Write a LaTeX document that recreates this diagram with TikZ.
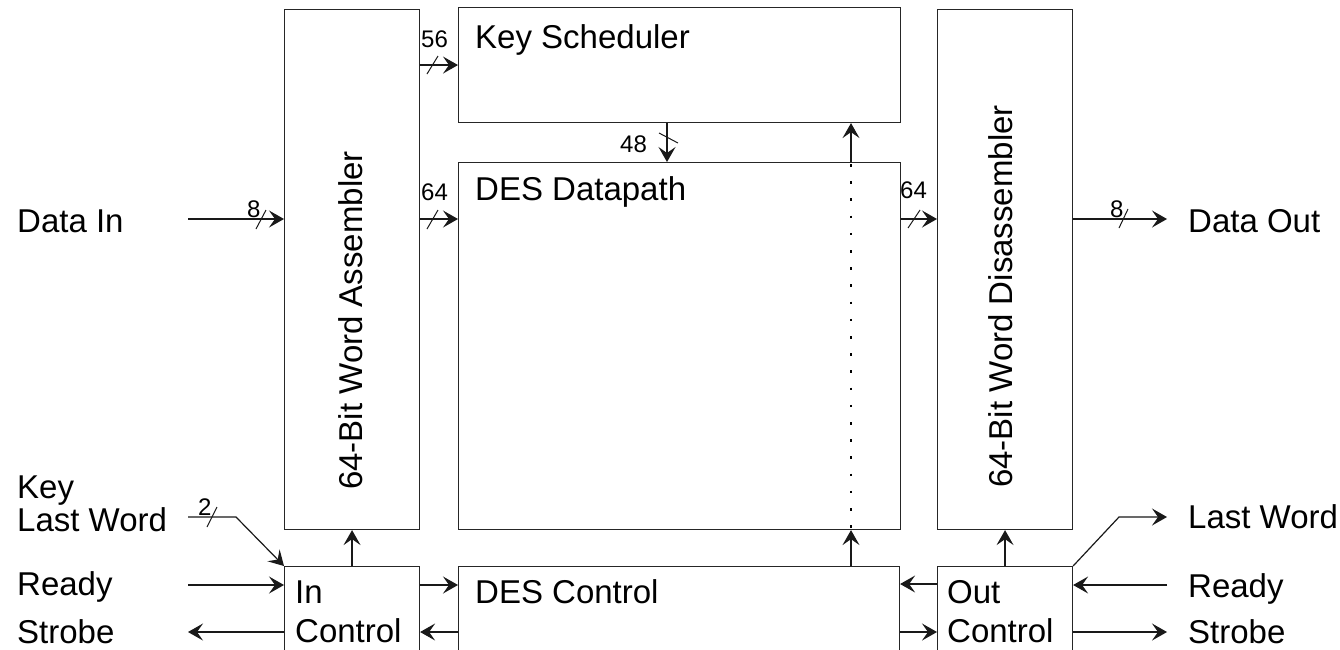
\documentclass[tikz,border=0pt]{standalone}
\usepackage{fontspec}
\setmainfont{Liberation Sans}
\usetikzlibrary{arrows.meta,calc}
\tikzset{
  box/.style={draw=black!85, line width=1.1pt, rectangle, inner sep=0pt, anchor=north west},
  big/.style={inner sep=0pt, anchor=base west, font=\fontsize{33}{40}\selectfont},
  small/.style={inner sep=0pt, anchor=base west, font=\fontsize{24}{28}\selectfont},
  conn/.style={line width=1.2pt, draw=black!90, -{Stealth[length=15pt,width=17pt,inset=6pt]}},
  slash/.style={line width=1pt, draw=black!90},
  dotline/.style={line width=2.6pt, dash pattern=on 2.6pt off 14.6pt}
}
\begin{document}
\begin{tikzpicture}[x=1pt,y=-1pt]
\useasboundingbox (0,0) rectangle (1340,649);
\clip (0,0) rectangle (1340,649);
% boxes
\node[box, minimum width=135pt, minimum height=520pt] (asm) at (284,9) {};
\node[box, minimum width=442pt, minimum height=115pt] (ks) at (458,7) {};
\node[box, minimum width=442pt, minimum height=367pt] (dp) at (458,162) {};
\node[box, minimum width=135pt, minimum height=520pt] (dis) at (937,9) {};
\node[box, minimum width=135pt, minimum height=110pt] (inc) at (284,566) {};
\node[box, minimum width=441pt, minimum height=110pt] (desc) at (458,566) {};
\node[box, minimum width=135pt, minimum height=110pt] (outc) at (937,566) {};
% box texts
\node[big] (tks) at (475,48) {Key Scheduler};
\node[big] (tdp) at (475,200) {DES Datapath};
\node[big] (tdc) at (475,603) {DES Control};
\node[big] (tin1) at (295,603) {In};
\node[big] (tin2) at (295,642) {Control};
\node[big] (tout1) at (947,603) {Out};
\node[big] (tout2) at (947,642) {Control};
\node[big, rotate=90] (tasm) at (362,490) {64-Bit Word Assembler};
\node[big, rotate=90] (tdis) at (1012,488) {64-Bit Word Disassembler};
% outer labels
\node[big] (ldatain) at (17,232) {Data In};
\node[big] (lkey) at (17,498) {Key};
\node[big] (llw) at (17,531) {Last Word};
\node[big] (lrdy) at (17,595) {Ready};
\node[big] (lstb) at (17,643) {Strobe};
\node[big] (rdataout) at (1188,232) {Data Out};
\node[big] (rlw) at (1188,528) {Last Word};
\node[big] (rrdy) at (1188,597) {Ready};
\node[big] (rstb) at (1188,643) {Strobe};
% width labels
\node[small] (n56) at (421,47) {56};
\node[small] (n64a) at (421,200) {64};
\node[small] (n8a) at (247,217) {8};
\node[small] (n48) at (620,152) {48};
\node[small] (n64b) at (900,198) {64};
\node[small] (n8b) at (1110,217) {8};
\node[small] (n2) at (198,515) {2};
% helper coordinates
\coordinate (row) at (0,219);
\coordinate (inA) at (188,219);
\coordinate (outA) at (1167,219);
\coordinate (k48) at (667,0);
\coordinate (kd) at (851,0);
\coordinate (klw) at (188,517);
\coordinate (klwb) at (236,517);
\coordinate (rdyL) at (188,585);
\coordinate (stbL) at (188,632);
\coordinate (rowR) at (0,585);
\coordinate (rowS) at (0,632);
\coordinate (rowR2) at (0,584);
\coordinate (lwb) at (1119,517);
\coordinate (lwE) at (1167,517);
\coordinate (rdyR) at (1167,585);
\coordinate (stbR) at (1167,632);
% connectors
\draw[conn] (inA) -- (asm.west |- inA);
\draw[conn] (asm.east |- ks.west) -- (ks.west);
\draw[conn] (asm.east |- row) -- (dp.west |- row);
\draw[conn] (ks.south -| k48) -- (dp.north -| k48);
\draw[conn] (dp.north -| kd) -- (ks.south -| kd);
\draw[dotline] ($(dp.north -| kd)+(0,2)$) -- (dp.south -| kd);
\draw[conn] (desc.north -| kd) -- (dp.south -| kd);
\draw[conn] (dp.east |- row) -- (dis.west |- row);
\draw[conn] (dis.east |- row) -- (outA);
\draw[conn] (inc.north) -- (asm.south);
\draw[conn] (outc.north) -- (dis.south);
\draw[conn] (klw) -- (klwb) -- (inc.north west);
\draw[conn] (rdyL) -- (inc.west |- rdyL);
\draw[conn] (inc.west |- stbL) -- (stbL);
\draw[conn] (inc.east |- rowR) -- (desc.west |- rowR);
\draw[conn] (desc.west |- rowS) -- (inc.east |- rowS);
\draw[conn] (outc.west |- rowR2) -- (desc.east |- rowR2);
\draw[conn] (desc.east |- rowS) -- (outc.west |- rowS);
\draw[conn] (outc.north east) -- (lwb) -- (lwE);
\draw[conn] (rdyR) -- (outc.east |- rdyR);
\draw[conn] (outc.east |- stbR) -- (stbR);
% bus slashes
\draw[slash] (256,229) -- (266,210);
\draw[slash] (427,74) -- (438,56);
\draw[slash] (427,229) -- (438,210);
\draw[slash] (659,133) -- (678,143);
\draw[slash] (908,228) -- (920,210);
\draw[slash] (1119,228) -- (1128,209);
\draw[slash] (207,527) -- (217,507);
\end{tikzpicture}
\end{document}
